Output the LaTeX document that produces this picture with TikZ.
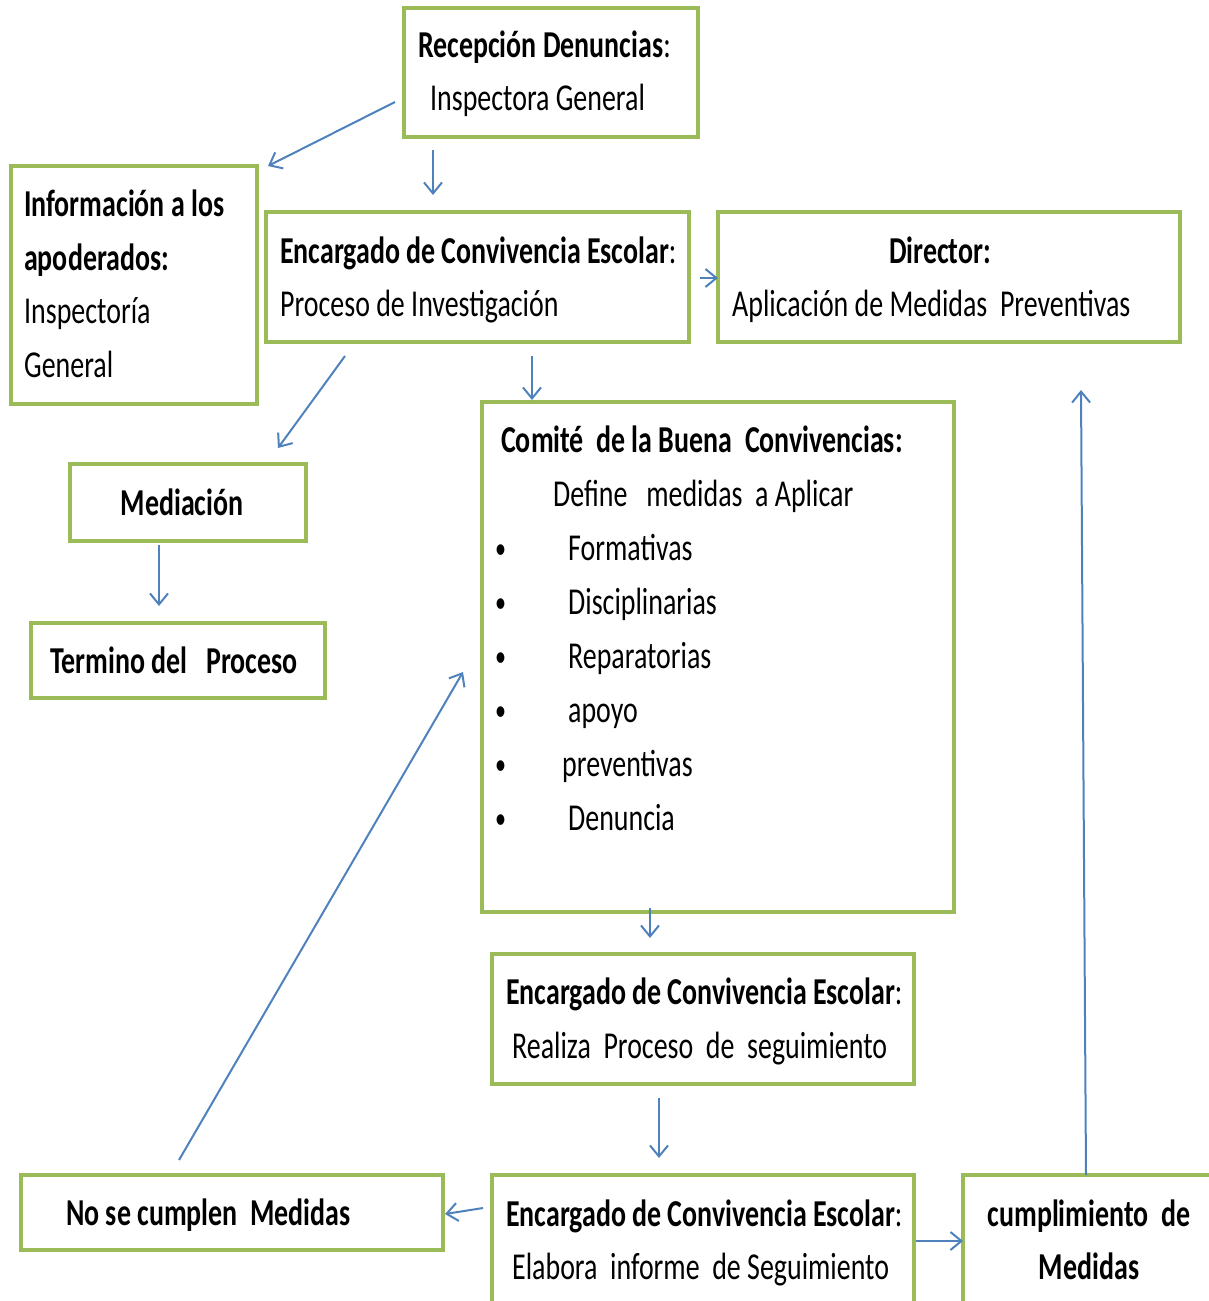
\documentclass[tikz,border=0pt]{standalone}
\usepackage{fontspec}
\setmainfont{Carlito}[FakeStretch=0.735]
\usetikzlibrary{arrows.meta}
\definecolor{verde}{RGB}{155,187,89}
\definecolor{azul}{RGB}{79,129,189}

\begin{document}
\begin{tikzpicture}[x=1pt,y=-1pt,
  caja/.style={draw=verde, line width=4pt, anchor=north west, inner sep=0pt, outer sep=0pt},
  texto/.style={anchor=base west, inner sep=0pt, font=\fontsize{38}{46}\selectfont},
  flecha/.style={->, draw=azul, line width=2pt},
  >={Straight Barb[length=11pt,width=18pt]}]
\useasboundingbox (0,0) rectangle (1209,1301);
\node[caja, minimum width=294pt, minimum height=129pt] (rec) at (404,8) {};
\node[caja, minimum width=246pt, minimum height=238pt] (info) at (11,166) {};
\node[caja, minimum width=423pt, minimum height=130pt] (enc1) at (266,212) {};
\node[caja, minimum width=462pt, minimum height=130pt] (dir) at (718,212) {};
\node[caja, minimum width=236pt, minimum height=77pt] (med) at (70,464) {};
\node[caja, minimum width=294pt, minimum height=75pt] (ter) at (31,623) {};
\node[caja, minimum width=472pt, minimum height=510pt] (com) at (482,402) {};
\node[caja, minimum width=422pt, minimum height=130pt] (enc2) at (492,954) {};
\node[caja, minimum width=422pt, minimum height=137pt] (enc3) at (492,1175) {};
\node[caja, minimum width=422pt, minimum height=75pt] (nsc) at (21,1175) {};
\node[caja, minimum width=249pt, minimum height=137pt] (cum) at (963,1175) {};

\node[texto] (rec-a) at (418,57) {\textbf{Recepción Denuncias}:};
\node[texto] (rec-b) at (430,110) {Inspectora General};
\node[texto] (info-a) at (24,216) {\textbf{Información a los}};
\node[texto] (info-b) at (24,270) {\textbf{apoderados:}};
\node[texto] (info-c) at (24,323) {Inspectoría};
\node[texto] (info-d) at (24,377) {General};
\node[texto] (enc1-a) at (280,263) {\textbf{Encargado de Convivencia Escolar}:};
\node[texto] (enc1-b) at (280,316) {Proceso de Investigación};
\node[texto, anchor=base] (dir-a) at (940,263) {\textbf{Director:}};
\node[texto] (dir-b) at (732,316) {Aplicación de Medidas~ Preventivas};
\node[texto, anchor=base] (med-a) at (182,515) {\textbf{Mediación}};
\node[texto] (ter-a) at (50,673) {\textbf{Termino del~~ Proceso}};
\node[texto] (com-a) at (501,452) {\textbf{Comité~ de la Buena~ Convivencias:}};
\node[texto] (com-b) at (553,506) {Define~~ medidas~ a Aplicar};
\foreach \y/\item [count=\i] in {560/Formativas, 614/Disciplinarias, 668/Reparatorias, 722/apoyo, 830/Denuncia} {
  \node[texto, font=\fontsize{30}{36}\selectfont] (bala\i) at (495,\y-2) {•};
  \node[texto] (item\i) at (568,\y) {\item};
}
\node[texto, font=\fontsize{30}{36}\selectfont] (bala6) at (495,774) {•};
\node[texto] (item6) at (562,776) {preventivas};
\node[texto] (enc2-a) at (506,1004) {\textbf{Encargado de Convivencia Escolar}:};
\node[texto] (enc2-b) at (512,1058) {Realiza~ Proceso~ de~ seguimiento};
\node[texto] (enc3-a) at (506,1226) {\textbf{Encargado de Convivencia Escolar}:};
\node[texto] (enc3-b) at (512,1279) {Elabora~ informe~ de Seguimiento};
\node[texto] (nsc-a) at (66,1225) {\textbf{No se cumplen~ Medidas}};
\node[texto, anchor=base] (cum-a) at (1089,1226) {\textbf{cumplimiento~ de}};
\node[texto, anchor=base] (cum-b) at (1089,1279) {\textbf{Medidas}};

\draw[flecha] ([shift={(-9,29.5)}]rec.west) -- ([shift={(11,0)}]info.north east);
\draw[flecha] ([shift={(-118,13)}]rec.south) -- ([shift={(-44.5,-17)}]enc1.north);
\draw[flecha] ([shift={(11,1)}]enc1.east) -- ([shift={(0,1)}]dir.west);
\draw[flecha] ([shift={(-132.5,14)}]enc1.south) -- ([shift={(90,-16)}]med.north);
\draw[flecha] ([shift={(54.5,14)}]enc1.south) -- ([shift={(-186,-2)}]com.north);
\draw[flecha] ([shift={(-29,4)}]med.south) -- ([shift={(-19,-17)}]ter.north);
\draw[flecha] ([shift={(-68,-4)}]com.south) -- ([shift={(-53,-16)}]enc2.north);
\draw[flecha] ([shift={(-44,14)}]enc2.south) -- ([shift={(-44,-17)}]enc3.north);
\draw[flecha] ([shift={(-9,-35.5)}]enc3.west) -- ([shift={(2,1.5)}]nsc.east);
\draw[flecha] ([shift={(2,-2.5)}]enc3.east) -- ([shift={(0,-2.5)}]cum.west);
\draw[flecha] ([shift={(-1.5,0)}]cum.north) -- ([shift={(132,48)}]dir.south);
\draw[flecha] ([shift={(-53,-15)}]nsc.north) -- ([shift={(-19,15)}]com.west);
\end{tikzpicture}
\end{document}
